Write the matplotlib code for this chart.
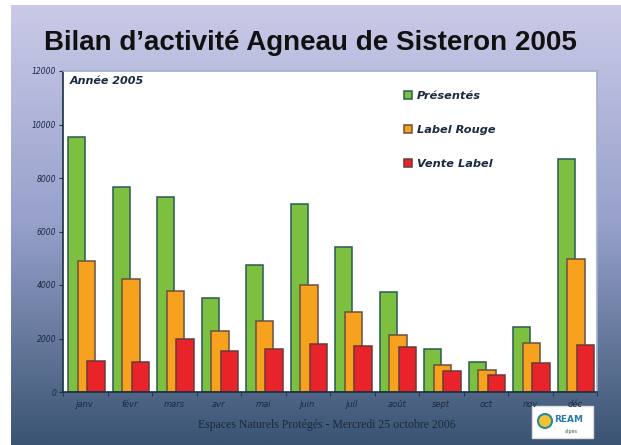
import matplotlib.pyplot as plt
import matplotlib.patches as mpatches
import numpy as np

# monthly figures, Agneau de Sisteron 2005
mois = ['janv', 'févr', 'mars', 'avr', 'mai', 'juin', 'juil', 'août',
        'sept', 'oct', 'nov', 'déc']
presentes = [9550, 7650, 7280, 3500, 4750, 7030, 5410, 3750, 1600, 1130, 2440, 8700]
label_rouge = [4900, 4220, 3790, 2280, 2640, 3990, 2990, 2120, 1020, 820, 1840, 4960]
vente_label = [1170, 1110, 1970, 1545, 1620, 1795, 1730, 1690, 790, 635, 1070, 1760]
yticks = [0, 2000, 4000, 6000, 8000, 10000, 12000]

fig = plt.figure(figsize=(6.21, 4.45), dpi=100)
fig.patch.set_facecolor('white')

# gradient background (white margin left / top like the scan)
bg = fig.add_axes([11/621, 0, 1 - 11/621, 1 - 5/445], zorder=-10)
top = np.array([202, 202, 232]) / 255
mid = np.array([150, 160, 202]) / 255
bot = np.array([58, 84, 114]) / 255
t = np.linspace(0, 1, 256)[:, None]
grad = np.where(t < 0.5, top + (mid - top) * (t / 0.5), mid + (bot - mid) * ((t - 0.5) / 0.5))
bg.imshow(grad[:, None, :], aspect='auto', extent=[0, 1, 0, 1])
bg.axis('off')

fig.text(0.5, 0.904, "Bilan d\u2019activité Agneau de Sisteron 2005", ha='center', va='center',
         fontsize=20, fontweight='bold', family='Liberation Sans', color='#111111')

ax = fig.add_axes([63/621, 53/445, 534/621, 321/445])
ax.set_facecolor('white')
x = np.arange(len(mois))
w = 0.39
ax.bar(x - 0.19, presentes, w, color='#7dbf3e', edgecolor='#2a5a55', linewidth=1.1,
       label='Présentés')
ax.bar(x + 0.025, label_rouge, w, color='#f6a21e', edgecolor='#6a5040', linewidth=1.1,
       label='Label Rouge')
ax.bar(x + 0.24, vente_label, w, color='#e8242a', edgecolor='#6a3a3a', linewidth=1.1,
       label='Vente Label')

ax.set_xlim(-0.5, 11.5)
ax.set_ylim(0, 12000)
ax.set_yticks(yticks)
ax.set_yticklabels([str(v) for v in yticks], fontsize=5.5, style='italic', color='#1a2a44')
ax.set_xticks(x)
ax.set_xticklabels(mois, fontsize=6, style='italic', color='#1a2a40')
ax.set_xticks(np.arange(-0.5, 12, 1), minor=True)
ax.tick_params(axis='x', which='major', length=0, pad=6)
ax.tick_params(axis='x', which='minor', length=3, color='#1a3040', direction='out')
ax.tick_params(axis='y', length=3, color='#1a3040', pad=2)
for s in ['left', 'bottom']:
    ax.spines[s].set_color('#1a3040')
    ax.spines[s].set_linewidth(1.2)
for s in ['top', 'right']:
    ax.spines[s].set_color('#9fb0cc')
    ax.spines[s].set_linewidth(1.2)

ax.text(0.012, 0.985, 'Année 2005', transform=ax.transAxes, ha='left', va='top',
        fontsize=8, fontweight='bold', style='italic', color='#1a2a40')

leg = ax.legend(loc='upper left', bbox_to_anchor=(0.62, 0.97), frameon=False,
                handlelength=0.7, handleheight=0.7, handletextpad=0.4, labelspacing=2.1,
                prop={'size': 8.2, 'weight': 'bold', 'style': 'italic'})
for txt in leg.get_texts():
    txt.set_color('#1a2a40')

fig.text(0.527, 0.045, 'Espaces Naturels Protégés - Mercredi 25 octobre 2006', ha='center',
         va='center', fontsize=8.5, family='Liberation Serif', color='#1a2a3a')

# small logo box, kept under the axes labels
fig.patches.append(mpatches.Rectangle((532/621, 7/445), 61/621, 32/445, transform=fig.transFigure,
                                      facecolor='white', edgecolor='#dddddd', zorder=-5))
fig.patches.append(mpatches.Ellipse((545/621, 24/445), 14/621, 14/445, transform=fig.transFigure,
                                    facecolor='#f2c330', edgecolor='#2a8aa0', linewidth=1.5, zorder=-4))
fig.text(569/621, 25/445, 'REAM', ha='center', va='center', fontsize=6.5, color='#2a7ab0',
         fontweight='bold')
fig.text(571/621, 14/445, 'alpes', ha='center', va='center', fontsize=3.5, color='#2a5a40')

fig.savefig('out.png', dpi=100)
